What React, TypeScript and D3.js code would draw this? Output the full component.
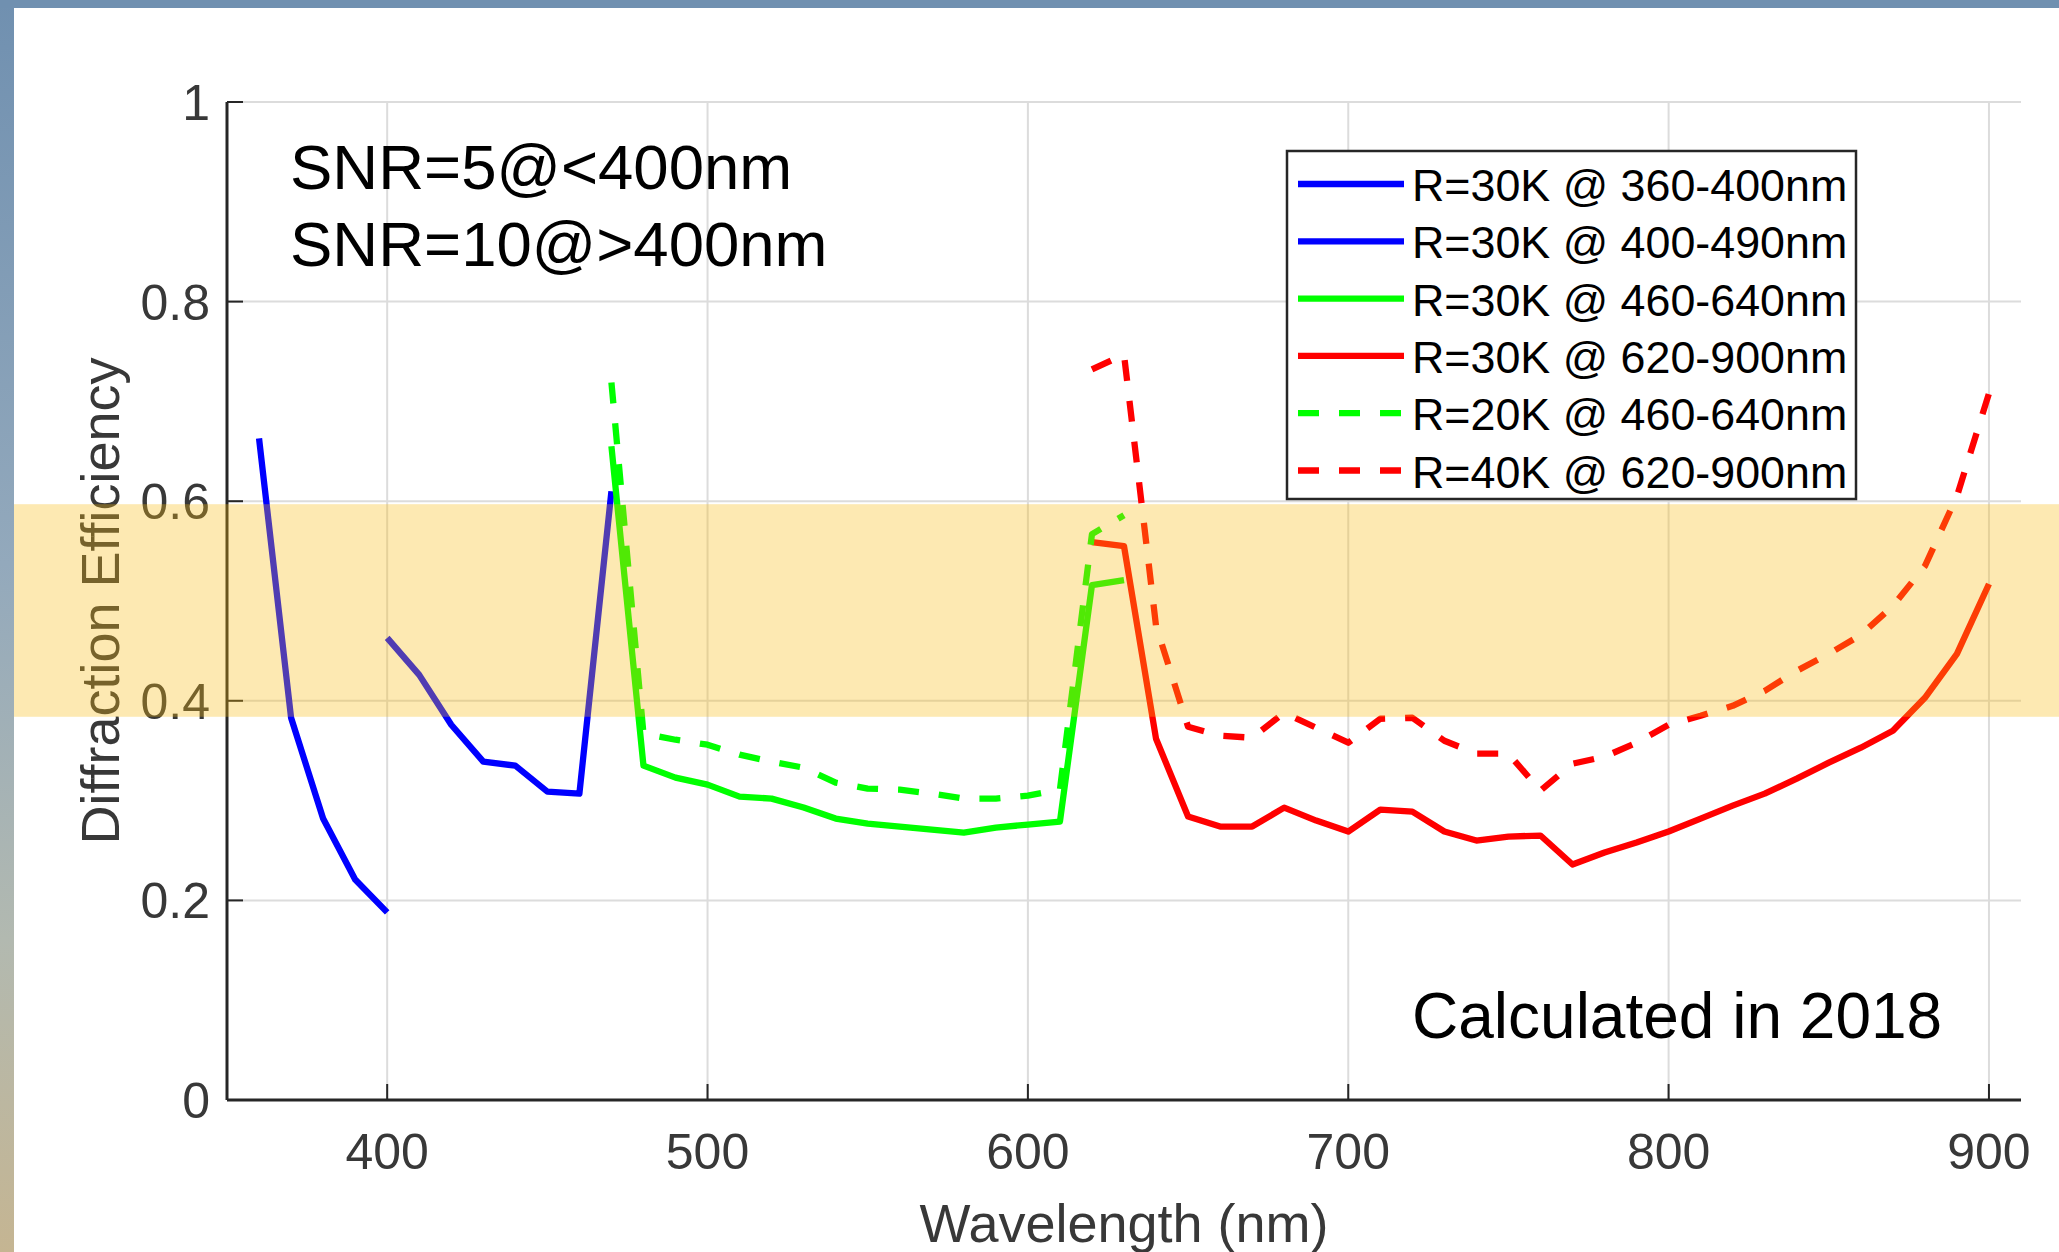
import * as d3 from "d3";

// wavelength (nm) and diffraction efficiency
const wlBlueA = [360, 370, 380, 390, 400];
const deBlueA = [0.663, 0.383, 0.282, 0.221, 0.188];

const wlBlueB = [400, 410, 420, 430, 440, 450, 460, 470];
const deBlueB = [0.463, 0.426, 0.376, 0.339, 0.335, 0.309, 0.307, 0.61];

const wlGreen = [470, 480, 490, 500, 510, 520, 530, 540, 550, 560, 570, 580, 590, 600, 610, 620, 630];
const deGreen30 = [0.655, 0.335, 0.323, 0.316, 0.304, 0.302, 0.293, 0.282, 0.277, 0.274, 0.271, 0.268, 0.273, 0.276, 0.279, 0.516, 0.521];
const deGreen20 = [0.719, 0.367, 0.361, 0.356, 0.346, 0.339, 0.333, 0.318, 0.312, 0.311, 0.307, 0.302, 0.302, 0.305, 0.311, 0.567, 0.586];

const wlRed = [620, 630, 640, 650, 660, 670, 680, 690, 700, 710, 720, 730, 740, 750, 760, 770, 780, 790, 800, 810, 820, 830, 840, 850, 860, 870, 880, 890, 900];
const deRed30 = [0.559, 0.555, 0.362, 0.284, 0.274, 0.274, 0.293, 0.28, 0.269, 0.291, 0.289, 0.269, 0.26, 0.264, 0.265, 0.236, 0.248, 0.258, 0.269, 0.282, 0.295, 0.307, 0.322, 0.338, 0.353, 0.37, 0.403, 0.447, 0.517];
const deRed40 = [0.732, 0.747, 0.475, 0.374, 0.365, 0.363, 0.388, 0.373, 0.358, 0.382, 0.383, 0.36, 0.347, 0.347, 0.31, 0.337, 0.344, 0.358, 0.376, 0.385, 0.395, 0.41, 0.43, 0.447, 0.466, 0.495, 0.535, 0.605, 0.708];

const xTicks = [400, 500, 600, 700, 800, 900];
const yTicks = [0, 0.2, 0.4, 0.6, 0.8, 1];
const yTickLabels = ["0", "0.2", "0.4", "0.6", "0.8", "1"];

const legendLabels = [
  "R=30K @ 360-400nm",
  "R=30K @ 400-490nm",
  "R=30K @ 460-640nm",
  "R=30K @ 620-900nm",
  "R=20K @ 460-640nm",
  "R=40K @ 620-900nm",
];

const bandRange = [0.384, 0.597];

const W = 2059;
const H = 1252;
const FONT = "'Liberation Sans', Arial, Helvetica, sans-serif";
const AXIS = "#262626";
const DASH = "21 20";

const series = [
  { wl: wlBlueA, de: deBlueA, color: "#0000ff", dash: null },
  { wl: wlBlueB, de: deBlueB, color: "#0000ff", dash: null },
  { wl: wlGreen, de: deGreen30, color: "#00ff00", dash: null },
  { wl: wlRed, de: deRed30, color: "#ff0000", dash: null },
  { wl: wlGreen, de: deGreen20, color: "#00ff00", dash: DASH },
  { wl: wlRed, de: deRed40, color: "#ff0000", dash: DASH },
];

const App = () => {
  const x = d3.scaleLinear().domain([350, 910]).range([227, 2021]);
  const y = d3.scaleLinear().domain([0, 1]).range([1100, 102]);

  const line = d3
    .line<[number, number]>()
    .x((d) => x(d[0]))
    .y((d) => y(d[1]));

  const legX = 1287;
  const legY = 151;
  const rowH = 57.3;

  return (
    <svg
      width={W}
      height={H}
      style={{ position: "absolute", left: 0, top: 0, display: "block", background: "#fff" }}
      fontFamily={FONT}
    >
      <defs>
        <linearGradient id="edge" x1="0" y1="0" x2="0" y2="1">
          <stop offset="0" stopColor="#7090b0" />
          <stop offset="0.45" stopColor="#93a9bc" />
          <stop offset="0.75" stopColor="#b2b9b0" />
          <stop offset="1" stopColor="#c5b592" />
        </linearGradient>
      </defs>
      <rect x={0} y={0} width={W} height={H} fill="#fff" />
      <rect x={0} y={0} width={14} height={H} fill="url(#edge)" />
      <rect x={0} y={0} width={W} height={8} fill="#7090b0" />

      {/* grid */}
      {xTicks.map((t) => (
        <line key={"gx" + t} x1={x(t)} x2={x(t)} y1={y(0)} y2={y(1)} stroke="#dcdcdc" strokeWidth={2} />
      ))}
      {yTicks.slice(1).map((t) => (
        <line key={"gy" + t} x1={x(350)} x2={x(910)} y1={y(t)} y2={y(t)} stroke="#dcdcdc" strokeWidth={2} />
      ))}

      {/* axes */}
      <line x1={x(350)} x2={x(910)} y1={y(0)} y2={y(0)} stroke={AXIS} strokeWidth={3} />
      <line x1={x(350)} x2={x(350)} y1={y(0)} y2={y(1)} stroke={AXIS} strokeWidth={3} />
      {xTicks.map((t) => (
        <g key={"tx" + t}>
          <line x1={x(t)} x2={x(t)} y1={y(0)} y2={y(0) - 16} stroke={AXIS} strokeWidth={2} />
          <text x={x(t)} y={1169} textAnchor="middle" fontSize={50} fill="#383838">
            {t}
          </text>
        </g>
      ))}
      {yTicks.map((t, i) => (
        <g key={"ty" + t}>
          <line x1={x(350)} x2={x(350) + 16} y1={y(t)} y2={y(t)} stroke={AXIS} strokeWidth={2} />
          <text x={x(350) - 17} y={y(t)} dy="0.36em" textAnchor="end" fontSize={50} fill="#383838">
            {yTickLabels[i]}
          </text>
        </g>
      ))}
      <text x={(x(350) + x(910)) / 2} y={1242} textAnchor="middle" fontSize={54} fill="#383838">
        Wavelength (nm)
      </text>
      <text transform={`translate(119,${y(0.5)}) rotate(-90)`} textAnchor="middle" fontSize={54} fill="#383838">
        Diffraction Efficiency
      </text>

      {/* data */}
      {series.map((s, i) => (
        <path
          key={"s" + i}
          d={line(s.wl.map((w, j) => [w, s.de[j]] as [number, number])) || ""}
          fill="none"
          stroke={s.color}
          strokeWidth={6.3}
          strokeDasharray={s.dash || undefined}
          strokeLinejoin="round"
        />
      ))}

      {/* annotations */}
      <text x={290} y={189} fontSize={63.5} fill="#000">
        SNR=5@&lt;400nm
      </text>
      <text x={290} y={266} fontSize={63.5} fill="#000">
        SNR=10@&gt;400nm
      </text>
      <text x={1412} y={1038} fontSize={64} fill="#000">
        Calculated in 2018
      </text>

      {/* legend */}
      <rect x={legX} y={legY} width={569} height={348} fill="#fff" stroke={AXIS} strokeWidth={2.5} />
      {series.map((s, i) => {
        const cy = 184 + i * rowH;
        return (
          <g key={"lg" + i}>
            <line x1={1298} x2={1404} y1={cy} y2={cy} stroke={s.color} strokeWidth={6.3} strokeDasharray={s.dash || undefined} />
            <text x={1412} y={cy + 17} fontSize={44.8} fill="#000">
              {legendLabels[i]}
            </text>
          </g>
        );
      })}

      {/* highlighted efficiency band, drawn over everything */}
      <rect
        x={14}
        y={y(bandRange[1])}
        width={W - 14}
        height={y(bandRange[0]) - y(bandRange[1])}
        fill="rgb(250,187,15)"
        fillOpacity={0.32}
      />
    </svg>
  );
};

export default App;
